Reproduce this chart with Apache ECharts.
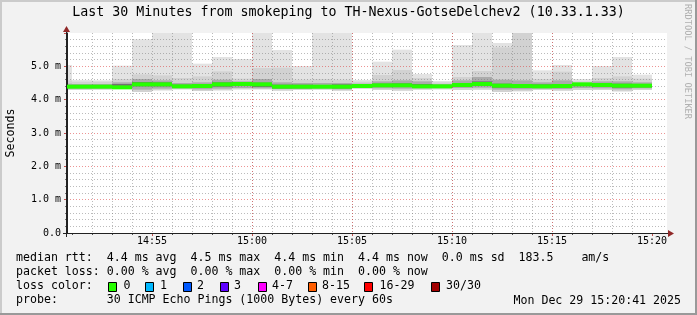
<!DOCTYPE html>
<html><head><meta charset="utf-8">
<script src="https://cdn.jsdelivr.net/npm/echarts@6/dist/echarts.min.js"></script>
<style>html,body{margin:0;padding:0;background:#f2f2f2}#c{width:697px;height:315px}</style>
</head><body><div id="c"></div>
<script>
// ---- data (step end times, RTT in ms) ----
const times = ['14:51','14:52','14:53','14:54','14:55','14:56','14:57','14:58','14:59','15:00',
               '15:01','15:02','15:03','15:04','15:05','15:06','15:07','15:08','15:09','15:10',
               '15:11','15:12','15:13','15:14','15:15','15:16','15:17','15:18','15:19','15:20'];
const maxRtt   = [5.04,4.59,4.58,5.02,5.81,6.40,6.30,5.08,5.28,5.22,6.50,5.49,5.01,6.20,6.60,4.59,5.14,5.50,4.77,4.56,5.64,6.30,5.70,7.00,4.88,5.04,4.62,5.01,5.28,4.75];
const smokeHi2 = [4.58,4.54,4.54,4.62,4.76,4.73,4.65,4.70,4.85,4.63,4.95,4.96,4.60,4.62,4.60,4.54,4.74,4.89,4.65,4.52,4.68,4.86,5.57,6.20,4.62,4.84,4.55,4.65,4.70,4.63];
const smokeHi3 = [4.48,4.47,4.47,4.52,4.62,4.58,4.50,4.52,4.60,4.55,4.62,4.52,4.50,4.50,4.50,4.48,4.55,4.58,4.55,4.47,4.58,4.68,4.60,4.58,4.52,4.58,4.50,4.55,4.55,4.52];
const smokeHi4 = [4.44,4.44,4.44,4.47,4.53,4.52,4.45,4.46,4.52,4.51,4.51,4.45,4.45,4.44,4.46,4.45,4.48,4.49,4.47,4.44,4.50,4.55,4.48,4.47,4.46,4.47,4.50,4.49,4.48,4.47];
const smokeLo4 = [4.35,4.35,4.35,4.35,4.40,4.40,4.35,4.35,4.39,4.41,4.38,4.34,4.34,4.35,4.34,4.37,4.38,4.38,4.36,4.36,4.39,4.41,4.36,4.35,4.35,4.36,4.41,4.39,4.36,4.37];
const smokeLo3 = [4.33,4.33,4.33,4.34,4.30,4.33,4.34,4.31,4.33,4.35,4.34,4.32,4.33,4.33,4.31,4.35,4.34,4.33,4.34,4.35,4.35,4.36,4.30,4.31,4.33,4.32,4.35,4.34,4.31,4.34];
const minRtt   = [4.29,4.29,4.30,4.32,4.23,4.28,4.31,4.26,4.28,4.31,4.31,4.27,4.29,4.30,4.27,4.33,4.29,4.27,4.30,4.31,4.29,4.30,4.23,4.25,4.29,4.27,4.29,4.29,4.25,4.29];
const medianRtt= [4.39,4.39,4.39,4.37,4.46,4.46,4.40,4.41,4.46,4.47,4.46,4.39,4.39,4.39,4.39,4.41,4.43,4.43,4.40,4.40,4.44,4.47,4.42,4.41,4.40,4.41,4.46,4.44,4.42,4.42];
const xTickLabels = ['14:55','15:00','15:05','15:10','15:15','15:20'];
const yTicks = ['0.0','1.0 m','2.0 m','3.0 m','4.0 m','5.0 m'];
const titleText = 'Last 30 Minutes from smokeping to TH-Nexus-GotseDelchev2 (10.33.1.33)';
const legendLines = [
  'median rtt:  4.4 ms avg  4.5 ms max  4.4 ms min  4.4 ms now  0.0 ms sd  183.5    am/s',
  'packet loss: 0.00 % avg  0.00 % max  0.00 % min  0.00 % now',
  'loss color:',
  'probe:       30 ICMP Echo Pings (1000 Bytes) every 60s'
];
const lossLabels = ['0','1','2','3','4-7','8-15','16-29','30/30'];
const lossColors = ['#26ff00','#00b8ff','#0059ff','#5e00ff','#ff00ff','#ff5e00','#ff0000','#a00000'];
const dateText = 'Mon Dec 29 15:20:41 2025';

// ---- chart ----
const MONO = '"DejaVu Sans Mono", monospace';
const T = (h, m, s) => Date.UTC(2025, 11, 29, h, m, s || 0);
const toMs = s => T(+s.slice(0, 2), +s.slice(3, 5));
const smokeData = times.map((t, i) => [toMs(t), maxRtt[i], smokeHi2[i], smokeHi3[i], smokeHi4[i], smokeLo4[i], smokeLo3[i], minRtt[i]]);
const medData = times.map((t, i) => [toMs(t), medianRtt[i]]);
const minuteTicks = times.map(toMs);
const majorTicks = xTickLabels.map(toMs);
const xMin = T(14, 50, 45), xMax = T(15, 20, 45);
const pad2 = n => (n < 10 ? '0' : '') + n;
const fmtTime = v => { const d = new Date(v); return pad2(d.getUTCHours()) + ':' + pad2(d.getUTCMinutes()); };

function clip(r, cs) {
  return echarts.graphic.clipRectByRect(r, { x: cs.x, y: cs.y, width: cs.width, height: cs.height });
}

const bandDefs = [[1, 7, '#e3e3e3'], [2, 7, '#d2d2d2'], [3, 6, '#ababab'], [4, 5, '#727272']];
const minorGrid = 'rgba(120,120,120,0.5)';
const majorGrid = 'rgba(220,60,60,0.55)';

const chart = echarts.init(document.getElementById('c'), null, { renderer: 'canvas', width: 697, height: 315 });

const legendGraphics = [];
legendLines.forEach((s, i) => {
  legendGraphics.push({ type: 'text', left: 16, top: 252 + i * 14, style: { text: s, font: '11.6px ' + MONO, fill: '#000' } });
});
const boxX = [108, 145, 183, 220, 258, 308, 364, 431];
const labX = [123.5, 160, 197, 234, 272, 322, 379.5, 446];
lossLabels.forEach((l, i) => {
  legendGraphics.push({ type: 'rect', shape: { x: boxX[i] + 0.5, y: 282.5, width: 8, height: 9 }, style: { fill: lossColors[i], stroke: '#000', lineWidth: 1 } });
  legendGraphics.push({ type: 'text', x: labX[i], y: 280, style: { text: l, font: '11.6px ' + MONO, fill: '#000' } });
});

chart.setOption({
  animation: false,
  backgroundColor: '#f2f2f2',
  grid: { left: 67, right: 30, top: 33, bottom: 82, containLabel: false, show: true, backgroundColor: '#ffffff', borderWidth: 0 },
  xAxis: [
    { type: 'value', position: 'bottom', min: xMin, max: xMax, z: 3,
      axisLine: { show: false }, axisLabel: { show: false },
      axisTick: { show: true, length: 2, customValues: minuteTicks, lineStyle: { color: '#555' } },
      splitLine: { show: true, showMinLine: false, showMaxLine: false, lineStyle: { color: minorGrid, type: [1, 2], width: 1 } } },
    { type: 'value', position: 'bottom', min: xMin, max: xMax, z: 3,
      axisLine: { show: true, lineStyle: { color: '#222', width: 1 } },
      axisTick: { show: true, length: 3, customValues: majorTicks, lineStyle: { color: '#c05050' } },
      axisLabel: { show: true, customValues: majorTicks, formatter: fmtTime, fontFamily: MONO, fontSize: 10, color: '#000', margin: 3 },
      splitLine: { show: true, showMinLine: false, showMaxLine: false, lineStyle: { color: majorGrid, type: [1, 2], width: 1 } } }
  ],
  yAxis: { type: 'value', min: 0, max: 6, interval: 1, z: 3,
    axisLine: { show: true, lineStyle: { color: '#222', width: 1 } },
    axisTick: { show: true, length: 3, lineStyle: { color: '#c05050' } },
    minorTick: { show: true, splitNumber: 5, length: 2, lineStyle: { color: '#777' } },
    axisLabel: { showMaxLabel: false, formatter: (v) => yTicks[Math.round(v)] || '', fontFamily: MONO, fontSize: 10, color: '#000', margin: 6 },
    splitLine: { show: true, showMinLine: false, showMaxLine: false, lineStyle: { color: majorGrid, type: [1, 2], width: 1 } },
    minorSplitLine: { show: true, lineStyle: { color: minorGrid, type: [1, 2], width: 1 } }
  },
  series: [
    { type: 'custom', xAxisIndex: 0, z: 1, data: smokeData, encode: { x: 0, y: [1, 7] },
      renderItem: (params, api) => {
        const tEnd = api.value(0), tStart = tEnd - 60000;
        const children = [];
        bandDefs.forEach(([hi, lo, col]) => {
          const p1 = api.coord([tStart, api.value(hi)]);
          const p2 = api.coord([tEnd, api.value(lo)]);
          const shape = clip({ x: p1[0], y: p1[1], width: p2[0] - p1[0], height: p2[1] - p1[1] }, params.coordSys);
          if (shape) children.push({ type: 'rect', shape, style: { fill: col } });
        });
        return { type: 'group', children };
      } },
    { type: 'custom', xAxisIndex: 0, z: 5, data: medData, encode: { x: 0, y: 1 },
      renderItem: (params, api) => {
        const tEnd = api.value(0), tStart = tEnd - 60000;
        const p1 = api.coord([tStart, api.value(1)]);
        const p2 = api.coord([tEnd, api.value(1)]);
        const shape = clip({ x: p1[0], y: p1[1] - 2, width: p2[0] - p1[0], height: 4 }, params.coordSys);
        return shape ? { type: 'rect', shape, style: { fill: '#26ff00' } } : null;
      } }
  ],
  graphic: [
    { type: 'rect', shape: { x: 0, y: 0, width: 697, height: 2 }, style: { fill: '#cbcbcb' }, silent: true },
    { type: 'rect', shape: { x: 0, y: 0, width: 2, height: 315 }, style: { fill: '#cbcbcb' }, silent: true },
    { type: 'rect', shape: { x: 695, y: 0, width: 2, height: 315 }, style: { fill: '#999999' }, silent: true },
    { type: 'rect', shape: { x: 0, y: 313, width: 697, height: 2 }, style: { fill: '#999999' }, silent: true },
    { type: 'text', x: 348.5, y: 13, style: { text: titleText, font: '13.3px ' + MONO, fill: '#000', align: 'center', verticalAlign: 'middle' } },
    { type: 'text', x: 687, y: 4, rotation: -Math.PI / 2, style: { text: 'RRDTOOL / TOBI OETIKER', font: '8.7px ' + MONO, fill: '#b0b0b0', align: 'left', verticalAlign: 'middle' } },
    { type: 'text', x: 11, y: 133, rotation: Math.PI / 2, style: { text: 'Seconds', font: '11.6px ' + MONO, fill: '#000', align: 'center', verticalAlign: 'middle' } },
    { type: 'line', shape: { x1: 66.5, y1: 237, x2: 66.5, y2: 29 }, style: { stroke: '#222', lineWidth: 1 }, z: 10 },
    { type: 'line', shape: { x1: 63, y1: 233.5, x2: 669, y2: 233.5 }, style: { stroke: '#222', lineWidth: 1 }, z: 10 },
    { type: 'polygon', shape: { points: [[63, 32], [70, 32], [66.5, 26]] }, style: { fill: '#902828' }, z: 11 },
    { type: 'polygon', shape: { points: [[668, 230], [668, 237], [674, 233.5]] }, style: { fill: '#902828' }, z: 11 },
    { type: 'text', x: 681, y: 301, style: { text: dateText, font: '11.6px ' + MONO, fill: '#000', align: 'right', verticalAlign: 'middle' } }
  ].concat(legendGraphics)
});
</script></body></html>
